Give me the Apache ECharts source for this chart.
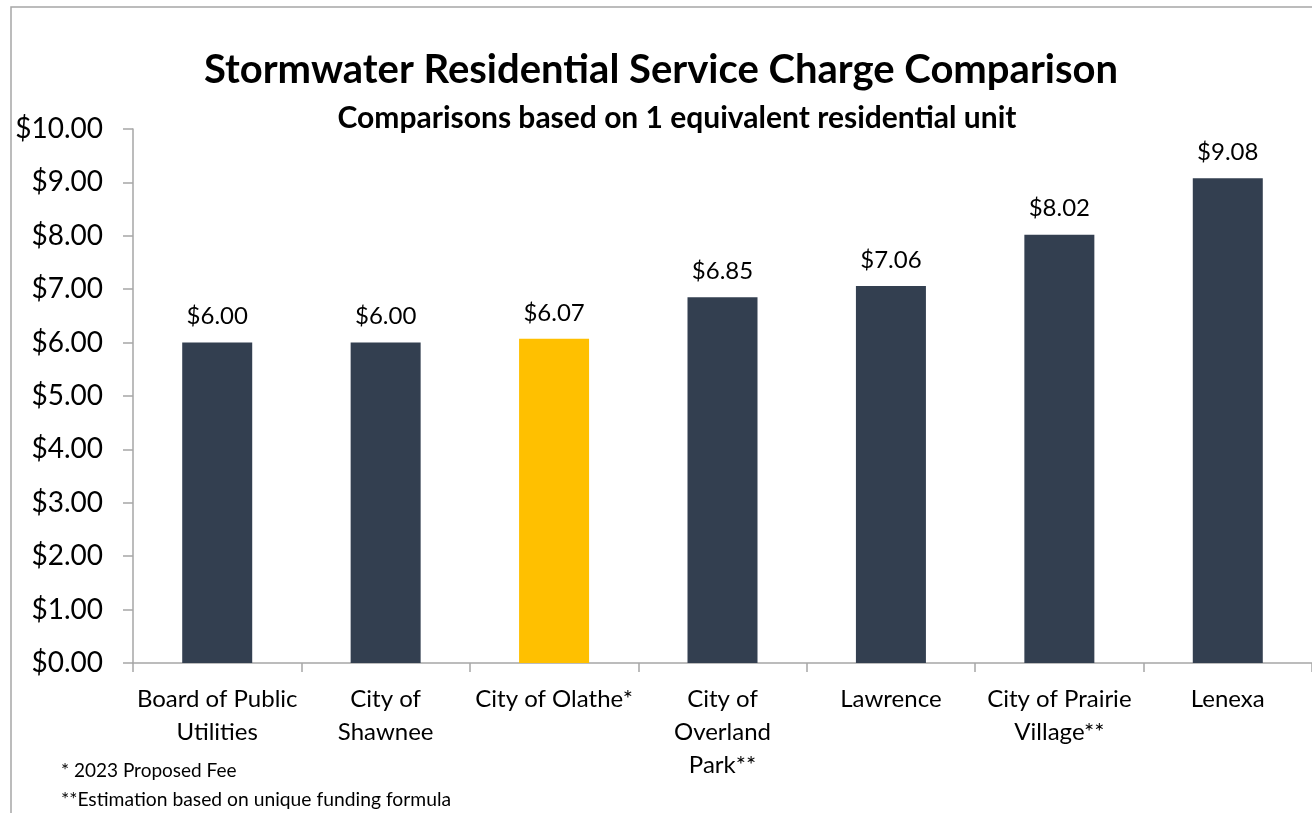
<!DOCTYPE html>
<html>
<head>
<meta charset="utf-8">
<script src="https://cdn.jsdelivr.net/npm/echarts@6/dist/echarts.min.js"></script>
<style>
  html, body { margin: 0; padding: 0; background: #fff; }
  #chart { width: 1312px; height: 813px; }
</style>
</head>
<body>
<div id="chart"></div>
<script>
var categories = ['Board of Public\nUtilities', 'City of\nShawnee', 'City of Olathe*', 'City of\nOverland\nPark**', 'Lawrence', 'City of Prairie\nVillage**', 'Lenexa'];
var charges = [6.00, 6.00, 6.07, 6.85, 7.06, 8.02, 9.08];
var highlightIndex = 2;
var notes = ['* 2023 Proposed Fee', '**Estimation based on unique funding formula'];

var fontFamily = 'Lato, "Open Sans", sans-serif';
var myChart = echarts.init(document.getElementById('chart'));

var barData = charges.map(function (v, i) {
    return {
        value: v,
        itemStyle: {color: i === highlightIndex ? '#FFC000' : '#333F50'}
    };
});

var option = {
    backgroundColor: '#fff',
    animation: false,
    textStyle: {fontFamily: fontFamily, color: '#000'},
    title: [
        {
            text: 'Stormwater Residential Service Charge Comparison',
            left: 656, top: 45, textAlign: 'center',
            textStyle: {fontSize: 40, fontWeight: 'bold', color: '#000', fontFamily: fontFamily}
        },
        {
            text: 'Comparisons based on 1 equivalent residential unit',
            left: 672, top: 98, textAlign: 'center',
            textStyle: {fontSize: 30, fontWeight: 'bold', color: '#000', fontFamily: fontFamily}
        },
        {
            text: notes[0],
            left: 56, top: 756,
            textStyle: {fontSize: 19, fontWeight: 'normal', color: '#000', fontFamily: fontFamily}
        },
        {
            text: notes[1],
            left: 56, top: 785,
            textStyle: {fontSize: 19.3, fontWeight: 'normal', color: '#000', fontFamily: fontFamily}
        }
    ],
    graphic: [
        {
            type: 'rect',
            shape: {x: 11, y: 7, width: 1320, height: 850},
            style: {fill: 'none', stroke: '#A6A6A6', lineWidth: 1.5},
            silent: true
        }
    ],
    grid: {left: 133, right: 0, top: 129, bottom: 150},
    xAxis: {
        type: 'category',
        data: categories,
        axisLine: {lineStyle: {color: '#A6A6A6', width: 1.5}},
        axisTick: {show: true, length: 9, lineStyle: {color: '#A6A6A6', width: 1.5}},
        axisLabel: {fontSize: 24, color: '#000', lineHeight: 33, margin: 20, interval: 0}
    },
    yAxis: {
        type: 'value',
        min: 0, max: 10, interval: 1,
        axisLine: {show: true, lineStyle: {color: '#A6A6A6', width: 1.5}},
        axisTick: {show: true, length: 10, lineStyle: {color: '#A6A6A6', width: 1.5}},
        splitLine: {show: false},
        axisLabel: {
            fontSize: 28, color: '#000', margin: 30,
            formatter: function (v) { return '$' + v.toFixed(2); }
        }
    },
    series: [
        {
            type: 'bar',
            data: barData,
            barWidth: 70,
            label: {
                show: true, position: 'top', distance: 14,
                fontSize: 24, color: '#000', fontFamily: fontFamily,
                formatter: function (p) { return '$' + p.value.toFixed(2); }
            }
        }
    ]
};
myChart.setOption(option);
</script>
</body>
</html>
